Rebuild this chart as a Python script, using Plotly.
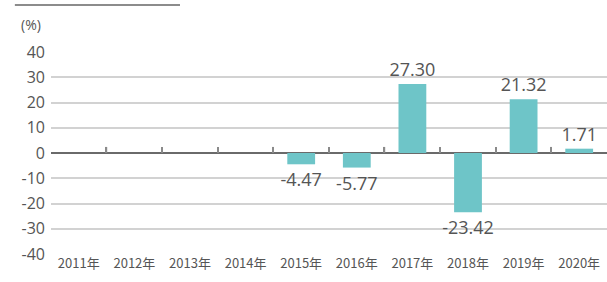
import plotly.graph_objects as go

years = ["2011年", "2012年", "2013年", "2014年", "2015年", "2016年", "2017年", "2018年", "2019年", "2020年"]
returns = [None, None, None, None, -4.47, -5.77, 27.30, -23.42, 21.32, 1.71]
y_ticks = [40, 30, 20, 10, 0, -10, -20, -30, -40]

BAR = "#6ec5c8"
TXT = "#555555"

n = len(years)
TICK_LEN = 2.4  # small upward ticks on the zero line (about 6 px), in y units

fig = go.Figure()
# small ticks at the right boundary of each category (except the last), drawn as thin bars
fig.add_trace(go.Bar(
    x=years[:-1], y=[TICK_LEN] * (n - 1), base=0,
    width=0.022, offset=0.489,
    marker=dict(color="#8a8a8a", line=dict(width=0)),
    showlegend=False, hoverinfo="skip",
))
fig.add_trace(go.Bar(
    x=years, y=returns,
    marker=dict(color=BAR, line=dict(width=0)),
    text=[f"{v:.2f}" if v is not None else "" for v in returns],
    textposition="outside",
    constraintext="none",
    textfont=dict(family="Open Sans", size=18, color=TXT),
    cliponaxis=False,
    showlegend=False,
    hoverinfo="skip",
))

fig.update_layout(
    width=607, height=282,
    margin=dict(l=51, r=0, t=52, b=28, autoexpand=False),
    paper_bgcolor="white", plot_bgcolor="white",
    barmode="overlay",
    bargap=0.5,
    font=dict(family="Open Sans", color=TXT),
    xaxis=dict(
        type="category", categoryarray=years, range=[-0.5, n - 0.5], automargin=False,
        showgrid=False, showline=False, ticks="", zeroline=False,
        tickfont=dict(family="Noto Sans CJK JP", size=13, color=TXT),
    ),
    yaxis=dict(
        range=[-40, 40], tickvals=y_ticks, ticktext=[str(v) for v in y_ticks],
        automargin=False,
        showgrid=True, gridcolor="#d2d2d2", gridwidth=1.5,
        zeroline=True, zerolinecolor="#6a6a6a", zerolinewidth=1.5,
        showline=False, ticks="", ticklabelstandoff=5,
        tickfont=dict(family="Open Sans", size=16, color=TXT),
    ),
    shapes=[dict(type="line", xref="paper", yref="paper", x0=-0.065, x1=0.232,
                 y0=1.233, y1=1.233, line=dict(color="#8c8c8c", width=2))],
    annotations=[dict(text="(%)", xref="paper", yref="paper", x=-0.036, y=1.134,
                      showarrow=False, font=dict(family="Open Sans", size=14, color=TXT),
                      xanchor="center", yanchor="middle")],
)

fig.write_html("out.html", config={"displayModeBar": False},
               post_script="document.body.style.margin='0';document.body.style.overflow='hidden';")
